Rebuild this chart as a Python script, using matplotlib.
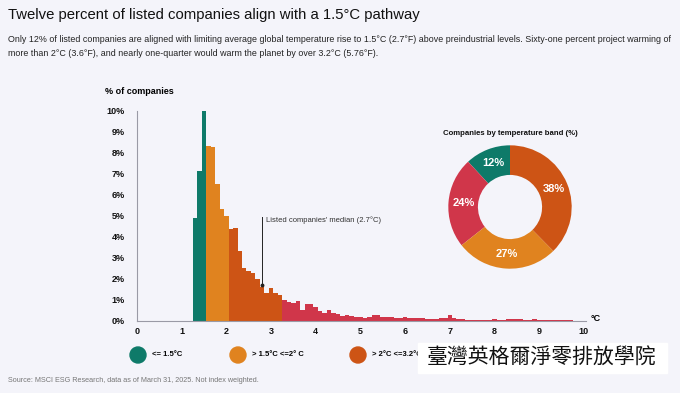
import numpy as np
import matplotlib.pyplot as plt
from matplotlib.patches import Ellipse, Rectangle

# histogram, share of companies per 0.1 degC bin
teal_x = [1.3, 1.4, 1.5]
teal_y = [4.9, 7.1, 10.0]
orange_x = [1.6, 1.7, 1.8, 1.9, 2.0]
orange_y = [8.3, 8.25, 6.5, 5.3, 5.0]
dark_x = [2.1, 2.2, 2.3, 2.4, 2.5, 2.6, 2.7, 2.8, 2.9, 3.0, 3.1, 3.2]
dark_y = [4.35, 4.4, 3.3, 2.5, 2.35, 2.25, 2.0, 1.6, 1.3, 1.55, 1.3, 1.2]
red_x = [round(3.3 + 0.1 * i, 1) for i in range(65)]
red_y = [0.97, 0.86, 0.84, 0.95, 0.50, 0.78, 0.78, 0.62, 0.44, 0.36,
         0.48, 0.36, 0.30, 0.20, 0.27, 0.22, 0.17, 0.15, 0.11, 0.18,
         0.25, 0.24, 0.17, 0.16, 0.17, 0.10, 0.12, 0.18, 0.12, 0.14,
         0.10, 0.12, 0.09, 0.07, 0.07, 0.11, 0.10, 0.24, 0.10, 0.07,
         0.06, 0.04, 0.03, 0.02, 0.03, 0.02, 0.04, 0.05, 0.03, 0.04,
         0.07, 0.09, 0.08, 0.05, 0.03, 0.04, 0.05, 0.02, 0.03, 0.03,
         0.02, 0.04, 0.03, 0.01, 0.02]

median_x = 2.8
median_label = "Listed companies' median (2.7°C)"

bands = ['<= 1.5°C', '> 1.5°C <=2° C', '> 2°C <=3.2°C', '> 3.2°C']
band_share = [12, 24, 27, 38]   # donut order: teal, red, orange, dark orange
band_labels = ['12%', '24%', '27%', '38%']

yticks = list(range(0, 11))
xticks = list(range(0, 11))

TEAL = '#0e7a69'
ORANGE = '#e0831f'
DARK = '#cd5415'
RED = '#d0364a'
BG = '#f4f4fa'

plt.rcParams['font.family'] = ['Liberation Sans', 'DejaVu Sans']

fig = plt.figure(figsize=(6.8, 3.93), dpi=100, facecolor=BG)

fig.text(8/680, 1 - 15/393, 'Twelve percent of listed companies align with a 1.5°C pathway',
         fontsize=10.7, va='center', ha='left', color='#111111')
fig.text(8/680, 1 - 40/393,
         'Only 12% of listed companies are aligned with limiting average global temperature rise to 1.5°C (2.7°F) above preindustrial levels. Sixty-one percent project warming of',
         fontsize=6.4, va='center', ha='left', color='#222222')
fig.text(8/680, 1 - 53/393,
         'more than 2°C (3.6°F), and nearly one-quarter would warm the planet by over 3.2°C (5.76°F).',
         fontsize=6.4, va='center', ha='left', color='#222222')

# main histogram
ax = fig.add_axes([137/680, 1 - 320.5/393, 449/680, 210/393])
ax.set_facecolor(BG)
ax.bar(teal_x, teal_y, width=0.1, color=TEAL, linewidth=0)
ax.bar(orange_x, orange_y, width=0.1, color=ORANGE, linewidth=0)
ax.bar(dark_x, dark_y, width=0.1, color=DARK, linewidth=0)
ax.bar(red_x, red_y, width=0.1, color=RED, linewidth=0)
ax.set_xlim(0, 10.05)
ax.set_ylim(0, 10)
ax.set_xticks(xticks)
ax.set_xticklabels([str(t) for t in xticks])
ax.set_yticks(yticks)
ax.set_yticklabels([f'{t}%' for t in yticks])
ax.tick_params(length=0, labelsize=6.5, colors='#111111')
ax.tick_params(axis='y', pad=9)
ax.tick_params(axis='x', pad=5)
for lab in ax.get_xticklabels() + ax.get_yticklabels():
    lab.set_fontweight('bold')
for s in ['top', 'right']:
    ax.spines[s].set_visible(False)
for s in ['left', 'bottom']:
    ax.spines[s].set_color('#9a9aa6')
    ax.spines[s].set_linewidth(0.8)

ax.text(-0.72, 10.9, '% of companies', fontsize=6.5, fontweight='bold', ha='left', va='center')
ax.text(10.15, 0.1, '°C', fontsize=6.5, fontweight='bold', ha='left', va='center')

# median marker
ax.plot([median_x, median_x], [1.7, 4.95], color='#222222', lw=0.7)
ax.plot([median_x], [1.7], 'o', color='#222222', ms=1.8)
ax.text(median_x + 0.08, 4.8, median_label, fontsize=5.5, color='#333333', va='center')

# donut
dax = fig.add_axes([(510 - 66)/680, 1 - (207 + 66)/393, 132/680, 132/393])
dax.pie(band_share, colors=[TEAL, RED, ORANGE, DARK], startangle=90, counterclock=True,
        radius=1.0, wedgeprops=dict(width=0.48, linewidth=0))
ang = 90.0
tot = sum(band_share)
for v, lab in zip(band_share, band_labels):
    a = np.deg2rad(ang + 360 * v / tot / 2)
    dax.text(0.76 * np.cos(a), 0.76 * np.sin(a), lab, color='white', fontsize=8,
             fontweight='bold', ha='center', va='center')
    ang += 360 * v / tot
dax.set_xlim(-1.07, 1.07)
dax.set_ylim(-1.07, 1.07)
dax.set_aspect('equal')
fig.text(510/680, 1 - 133/393, 'Companies by temperature band (%)', fontsize=5.6,
         fontweight='bold', ha='center', va='center', color='#111111')

# legend
leg_x = [138, 238, 358]
leg_col = [TEAL, ORANGE, DARK]
for cx, col, lab in zip(leg_x, leg_col, bands[:3]):
    fig.patches.append(Ellipse((cx/680, 1 - 355/393), 16/680, 16/393, color=col,
                               transform=fig.transFigure, zorder=2))
    fig.text((cx + 14)/680, 1 - 354/393, lab, fontsize=5.5, fontweight='bold',
             va='center', ha='left', zorder=3)

# watermark box
fig.patches.append(Rectangle((418/680, 1 - 373/393), 249/680, 30/393, color='white',
                             transform=fig.transFigure, zorder=5))
fig.text(542/680, 1 - 358/393, '臺灣英格爾淨零排放學院', fontsize=15, ha='center',
         va='center', family=['Noto Sans CJK TC', 'DejaVu Sans'], color='#111111', zorder=6)

fig.text(8/680, 1 - 381/393, 'Source: MSCI ESG Research, data as of March 31, 2025. Not index weighted.',
         fontsize=5.2, color='#777777', va='center', ha='left')

fig.savefig('out.png', dpi=100, facecolor=BG)
